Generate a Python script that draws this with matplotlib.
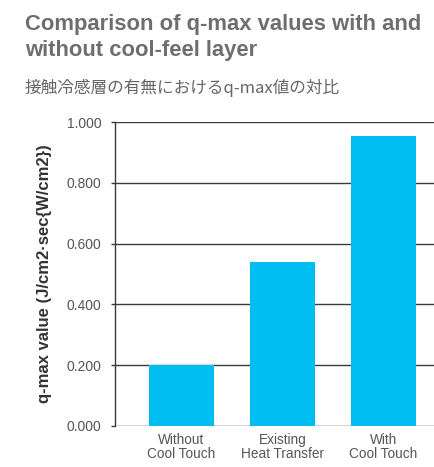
import matplotlib
matplotlib.use("Agg")
import matplotlib.pyplot as plt

plt.rcParams['font.family'] = ['Liberation Sans', 'Noto Sans CJK JP', 'DejaVu Sans']

# Data
categories = ["Without\nCool Touch", "Existing\nHeat Transfer", "With\nCool Touch"]
qmax_values = [0.200, 0.540, 0.955]
yticks = [0.0, 0.2, 0.4, 0.6, 0.8, 1.0]

title = "Comparison of q-max values with and\nwithout cool-feel layer"
subtitle = "接触冷感層の有無におけるq-max値の対比"
ylabel = "q-max value (J/cm2·sec{W/cm2})"

bar_color = "#00bef2"
line_color = "#3a3a3a"
text_color = "#555555"

fig = plt.figure(figsize=(4.35, 4.67), dpi=100)
ax = fig.add_axes([0.2644, 0.0884, 0.7356, 0.6497])

x = range(len(categories))
ax.bar(x, qmax_values, width=0.644, color=bar_color, zorder=3)

for y in yticks:
    ax.axhline(y, color=line_color, lw=1.0, zorder=1)

ax.set_xlim(-0.658, 2.51)
ax.set_ylim(0, 1.0)
ax.set_yticks(yticks)
ax.set_yticklabels([f"{v:.3f}" for v in yticks], fontsize=10, color=text_color)
ax.set_xticks(list(x))
ax.set_xticklabels(categories, fontsize=9.8, color=text_color, linespacing=1.05)
ax.tick_params(axis='x', length=0, pad=5)
ax.tick_params(axis='y', length=3, width=1, color=line_color, pad=7)

for s in ['top', 'right', 'bottom']:
    ax.spines[s].set_visible(False)
ax.spines['left'].set_color(line_color)
ax.spines['left'].set_linewidth(1.0)
ax.spines['left'].set_zorder(4)

ax.set_ylabel(ylabel, fontsize=12, fontweight='bold', color="#333333", labelpad=10)

fig.text(0.0575, 0.970, title, fontsize=15.8, fontweight='bold', color="#6e6e6e",
         va='top', ha='left', linespacing=1.3)
fig.text(0.0575, 0.832, subtitle, fontsize=12, color="#666666", va='top', ha='left',
         family=['Noto Sans CJK JP', 'DejaVu Sans'])

fig.savefig("out.png", dpi=100)
